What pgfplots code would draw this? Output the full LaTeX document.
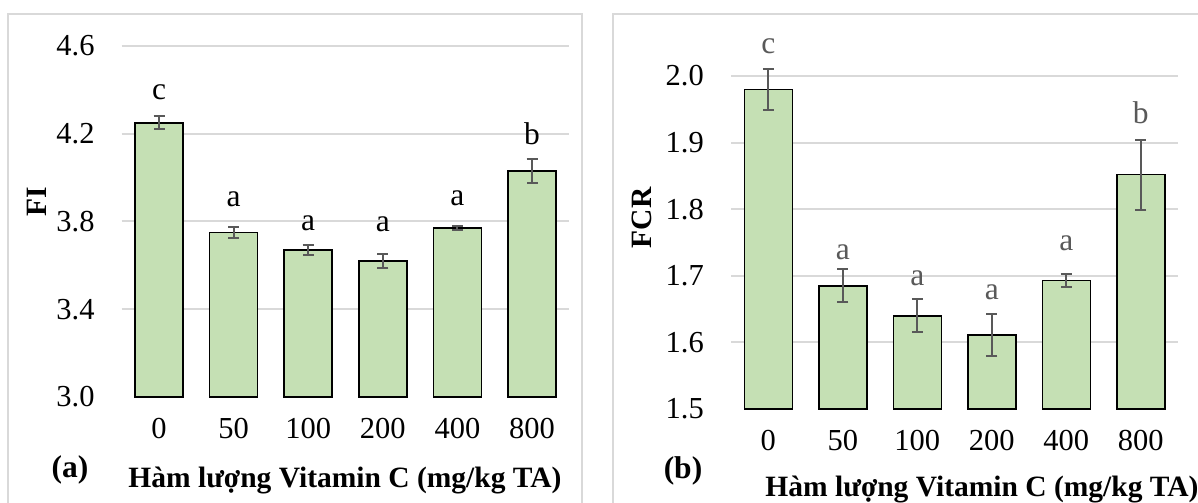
\documentclass[border=0pt]{standalone}
\usepackage{fontspec}
\setmainfont{Liberation Serif}
\usepackage{pgfplots}
\pgfplotsset{compat=1.18}

\definecolor{barfill}{HTML}{C5E0B4}
\definecolor{gridgray}{HTML}{D9D9D9}
\definecolor{errgray}{HTML}{595959}
\newcommand{\fs}{\fontsize{29.5bp}{32bp}\selectfont}
\newcommand{\fst}{\fontsize{30.5bp}{32bp}\selectfont}
\newcommand{\fsl}{\fontsize{31.5bp}{34bp}\selectfont}

% FI: dose index, mean, SE, letter baseline, letter
\pgfplotstableread{
x  y     e      ly     lab
0  4.25  0.030  4.354  c
1  3.75  0.025  3.867  a
2  3.67  0.025  3.761  a
3  3.62  0.033  3.754  a
4  3.77  0.008  3.875  a
5  4.03  0.055  4.153  b
}\fitable

% FCR
\pgfplotstableread{
x  y      e       ly     lab
0  1.98   0.031   2.034  c
1  1.685  0.0245  1.724  a
2  1.64   0.0245  1.685  a
3  1.611  0.032   1.665  a
4  1.693  0.0095  1.7375 a
5  1.852  0.0525  1.929  b
}\fcrtable

\pgfplotsset{
  panel/.style={
    scale only axis,
    clip=false,
    axis line style={draw=none},
    major tick length=0pt,
    ymajorgrids,
    grid style={draw=gridgray, line width=2bp},
    xmin=-0.5, xmax=5.5,
    xtick={0,1,2,3,4,5},
    xticklabels={0,50,100,200,400,800},
    bar width=48bp,
    /pgf/number format/assume math mode=true,
    tick label style={font=\fst, text=black, inner sep=0pt},
    xticklabel style={anchor=north, yshift=-21bp},
    yticklabel style={anchor=east, xshift=-27bp,
      /pgf/number format/.cd, fixed, fixed zerofill, precision=1},
    extra tick style={grid=none},
  },
  bars/.style={
    ybar, bar shift=0pt, fill=barfill, draw=black, line width=1.5bp,
    error bars/.cd, y dir=both, y explicit,
    error bar style={line width=2bp, draw=errgray},
    error mark options={rotate=90, mark size=5.5bp, line width=2bp, draw=errgray},
  },
  letters/.style={
    only marks, mark=*, mark size=0bp,
    mark options={draw=none, fill=none},
    nodes near coords, point meta=explicit symbolic,
    nodes near coords style={anchor=base, font=\fsl, inner sep=0pt, text=#1},
  },
}

\begin{document}
\begin{tikzpicture}[x=1bp, y=1bp]
\useasboundingbox (0,0) rectangle (1198,503);
\fill[white] (0,0) rectangle (1198,503);
\begin{scope}
\clip (0,0) rectangle (1198,503);
\draw[gridgray, line width=2bp] (8,-20) rectangle (582,489);
\draw[gridgray, line width=2bp] (613,-20) rectangle (1240,489);
\end{scope}

% (a) feed intake
\begin{axis}[panel,
  at={(121.7bp,106bp)}, anchor=south west,
  width=447.6bp, height=351bp,
  ymin=3.0, ymax=4.6,
  ytick={3.4,3.8,4.2,4.6},
  extra y ticks={3.0},
]
\addplot[bars] table[x=x, y=y, y error=e] {\fitable};
\addplot[letters=black] table[x=x, y=ly, meta=lab] {\fitable};
\end{axis}

% (b) feed conversion ratio
\begin{axis}[panel,
  at={(731bp,94bp)}, anchor=south west,
  width=447bp, height=333bp,
  ymin=1.5, ymax=2.0,
  ytick={1.6,1.7,1.8,1.9,2.0},
  extra y ticks={1.5},
]
\addplot[bars] table[x=x, y=y, y error=e] {\fcrtable};
\addplot[letters=errgray] table[x=x, y=ly, meta=lab] {\fcrtable};
\end{axis}

% panel labels and axis titles
\node[rotate=90, font=\fs\bfseries] at (36.5,301) {FI};
\node[rotate=90, font=\fs\bfseries] at (642,285) {FCR};
\node[font=\fsl\bfseries] at (70,33) {(a)};
\node[font=\fsl\bfseries] at (683,32) {(b)};
\node[font=\fs\bfseries, anchor=base, inner sep=0pt] at (345,15) {Hàm lượng Vitamin C (mg/kg TA)};
\node[font=\fs\bfseries, anchor=base, inner sep=0pt] at (982,6) {Hàm lượng Vitamin C (mg/kg TA)};
\end{tikzpicture}
\end{document}
